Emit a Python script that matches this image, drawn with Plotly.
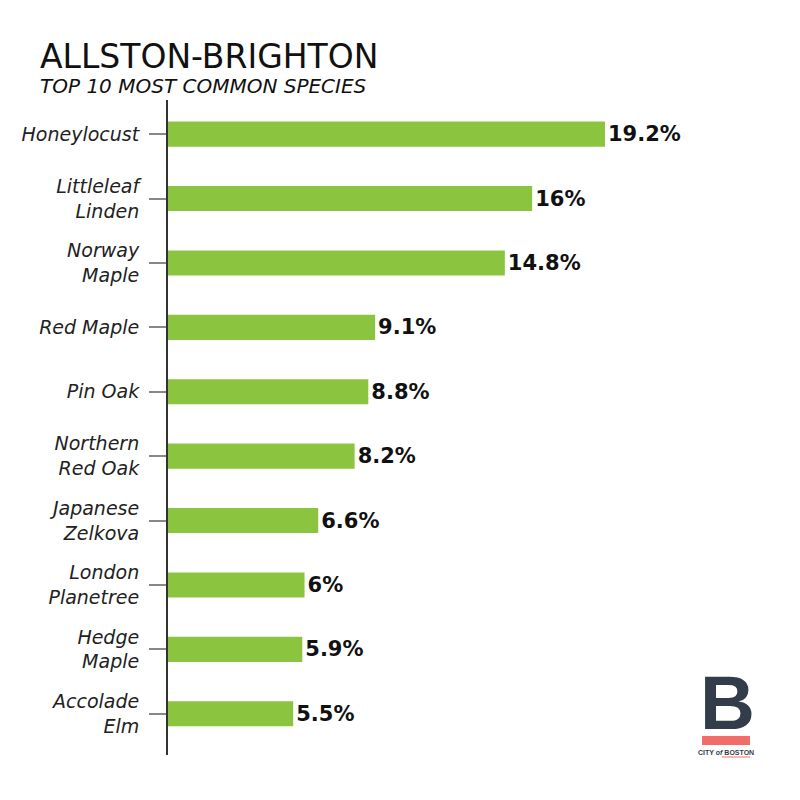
import plotly.graph_objects as go

species = ["Honeylocust", "Littleleaf<br>Linden", "Norway<br>Maple", "Red Maple", "Pin Oak",
           "Northern<br>Red Oak", "Japanese<br>Zelkova", "London<br>Planetree", "Hedge<br>Maple",
           "Accolade<br>Elm"]
percent = [19.2, 16, 14.8, 9.1, 8.8, 8.2, 6.6, 6, 5.9, 5.5]
value_labels = ["19.2%", "16%", "14.8%", "9.1%", "8.8%", "8.2%", "6.6%", "6%", "5.9%", "5.5%"]

OFF = 8  # page body offset
W, H = 800, 800
ML, MT = 168 - OFF, 100 - OFF
PW, PH = 592, 655
MR, MB = W - ML - PW, H - MT - PH

def px(x):
    return (x - OFF - ML) / PW

def py(y):
    return (H - MB - (y - OFF)) / PH

fig = go.Figure(go.Bar(
    x=percent, y=species, orientation="h",
    marker=dict(color="#8bc53f", line=dict(width=0)),
    width=0.39,
    text=value_labels, textposition="outside", cliponaxis=False,
    textfont=dict(family="DejaVu Sans", size=21, color="#111111", weight="bold"),
))

fig.update_layout(
    width=W, height=H,
    margin=dict(l=ML, r=MR, t=MT, b=MB, autoexpand=False),
    paper_bgcolor="white", plot_bgcolor="white",
    showlegend=False,
    xaxis=dict(range=[0, PW / 22.76], visible=False, fixedrange=True),
    yaxis=dict(
        type="category", categoryorder="array", categoryarray=species,
        range=[9.64, -0.53], automargin=False,
        showline=True, linecolor="#333333", linewidth=2,
        ticks="outside", ticklen=17, tickcolor="#888888", tickwidth=1.5,
        ticklabelstandoff=6,
        tickfont=dict(family="DejaVu Sans", size=19, color="#222222", style="italic"),
        showgrid=False, zeroline=False,
    ),
    font=dict(family="DejaVu Sans"),
)

annotations = [
    dict(text="ALLSTON-BRIGHTON", x=px(38), y=py(35), xanchor="left", yanchor="top",
         font=dict(family="DejaVu Sans", size=33, color="#111111")),
    dict(text="TOP 10 MOST COMMON SPECIES", x=px(38), y=py(72), xanchor="left", yanchor="top",
         font=dict(family="DejaVu Sans", size=20, color="#111111", style="italic")),
    dict(text="<b>B</b>", x=px(727), y=py(702), xanchor="center", yanchor="middle",
         font=dict(family="Liberation Sans", size=76, color="#323c4a")),
    dict(text="<b>CITY <i>of</i> BOSTON</b>", x=px(726), y=py(752), xanchor="center", yanchor="middle",
         font=dict(family="Liberation Sans", size=7, color="#323c4a")),
]
for a in annotations:
    a.update(xref="paper", yref="paper", showarrow=False)
fig.update_layout(annotations=annotations)

fig.add_shape(type="rect", xref="paper", yref="paper",
              x0=px(702), x1=px(750), y0=py(745), y1=py(736),
              fillcolor="#f26d6a", line=dict(width=0))
fig.add_shape(type="line", xref="paper", yref="paper",
              x0=px(722), x1=px(750), y0=py(757), y1=py(757),
              line=dict(color="#f26d6a", width=1))

fig.write_html("out.html")
